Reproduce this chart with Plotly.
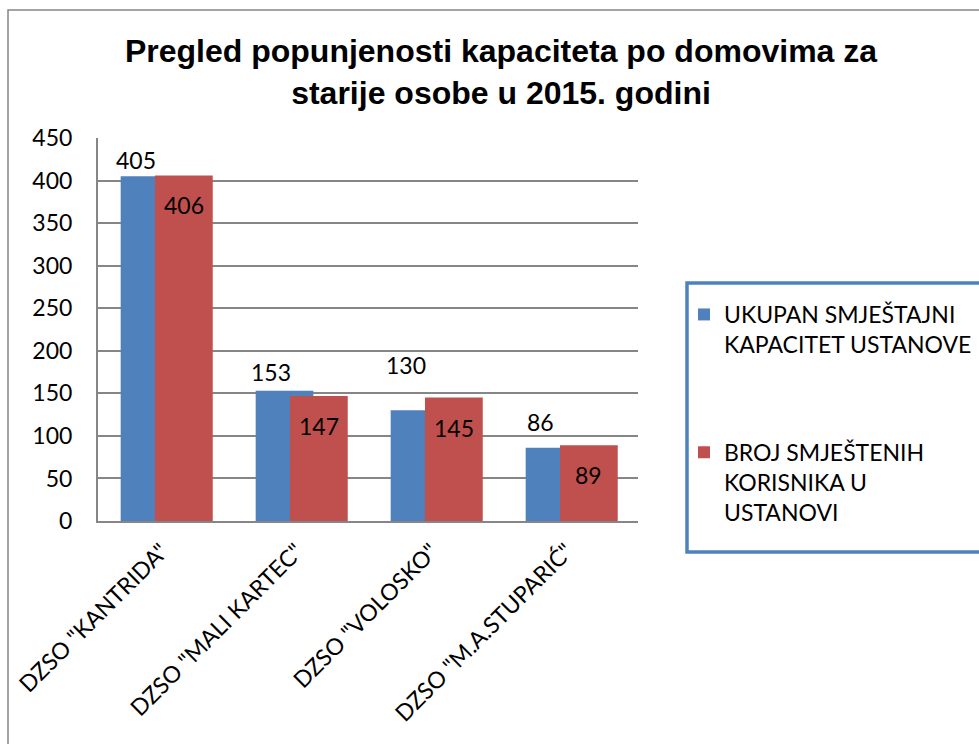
import plotly.graph_objects as go

categories = ['DZSO "KANTRIDA"', 'DZSO "MALI KARTEC"', 'DZSO "VOLOSKO"', 'DZSO "M.A.STUPARIĆ"']
capacity = [405, 153, 130, 86]
residents = [406, 147, 145, 89]
series_names = ["UKUPAN SMJEŠTAJNI<br>KAPACITET USTANOVE",
                "BROJ SMJEŠTENIH<br>KORISNIKA U<br>USTANOVI"]
y_ticks = [0, 50, 100, 150, 200, 250, 300, 350, 400, 450]

# style
BLUE = "#4F81BD"
RED = "#C0504D"
GRID = "#868686"
FONT = "Lato"
W, H = 979, 744
L, R, T, B = 98, 638, 138, 521  # plot area pixel box
blue_label_yshift = [16, 19, 45, 26]

def px_x(p):
    return (p - L) / (R - L)

def px_y(p):
    return (B - p) / (B - T)

x_idx = list(range(len(categories)))

fig = go.Figure()
fig.add_trace(go.Bar(
    x=x_idx, y=capacity, name=series_names[0], marker_color=BLUE,
    width=0.427, offset=-0.332, legendgroup="a", marker_line_width=0,
))
fig.add_trace(go.Bar(
    x=x_idx, y=residents, name=series_names[1], marker_color=RED,
    width=0.428, offset=-0.078, legendgroup="b", marker_line_width=0,
))

annotations = []
for i, v in enumerate(capacity):
    annotations.append(dict(x=i, y=v, xref="x", yref="y", text=str(v), showarrow=False,
                            xshift=-30, yshift=blue_label_yshift[i], yanchor="middle",
                            font=dict(family=FONT, size=23, color="black")))
for i, v in enumerate(residents):
    annotations.append(dict(x=i, y=v, xref="x", yref="y", text=str(v), showarrow=False,
                            xshift=18, yshift=-30, yanchor="middle",
                            font=dict(family=FONT, size=23, color="black")))

shapes = [
    # outer chart border
    dict(type="rect", xref="paper", yref="paper",
         x0=px_x(8), x1=px_x(W + 20), y0=px_y(H + 20), y1=px_y(10),
         line=dict(color="#878787", width=1.5), fillcolor="rgba(0,0,0,0)", layer="below"),
    # legend box
    dict(type="rect", xref="paper", yref="paper",
         x0=px_x(687), x1=px_x(W + 15), y0=px_y(552), y1=px_y(283),
         line=dict(color=BLUE, width=3.5), fillcolor="rgba(0,0,0,0)"),
]

fig.update_layout(
    width=W, height=H,
    margin=dict(l=L, r=W - R, t=T, b=H - B, pad=0, autoexpand=False),
    paper_bgcolor="white", plot_bgcolor="white",
    barmode="overlay",
    showlegend=True,
    title=dict(
        text="Pregled popunjenosti kapaciteta po domovima za<br>starije osobe u 2015. godini",
        x=501 / W, xanchor="center", xref="container",
        y=1 - 62 / H, yanchor="top", yref="container",
        font=dict(family="Liberation Sans", size=32, color="black", weight="bold"),
    ),
    xaxis=dict(
        range=[-0.5, 3.5], tickmode="array", tickvals=x_idx, ticktext=categories,
        tickangle=-45, showgrid=False, zeroline=False,
        showline=True, linecolor=GRID, linewidth=2,
        ticks="", ticklabelshift=-4, ticklabelstandoff=6,
        tickfont=dict(family=FONT, size=23, color="black"),
    ),
    yaxis=dict(
        range=[0, 450], tickmode="array", tickvals=y_ticks,
        showgrid=True, gridcolor=GRID, gridwidth=1.5, zeroline=False,
        showline=True, linecolor=GRID, linewidth=2,
        ticks="", ticklabelstandoff=19,
        tickfont=dict(family=FONT, size=23, color="black"),
    ),
    legend=dict(
        x=px_x(684), xanchor="left", y=px_y(293), yanchor="top",
        bgcolor="rgba(0,0,0,0)", borderwidth=0,
        font=dict(family=FONT, size=23, color="black"),
        tracegroupgap=75, valign="top", traceorder="grouped",
    ),
    annotations=annotations,
    shapes=shapes,
)

fig.write_html("out.html", config={"displayModeBar": False},
               post_script="document.body.style.margin='0';")
